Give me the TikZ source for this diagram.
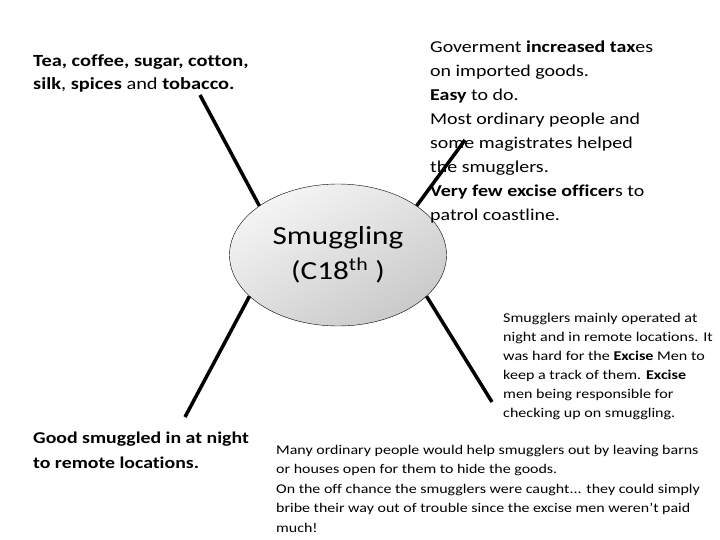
\documentclass[tikz,border=0pt]{standalone}
\usepackage{fontspec}
\setmainfont{Carlito}[FakeStretch=1.2, Ligatures=NoCommon]
\usepackage{tikz}
\usetikzlibrary{shapes.geometric, positioning, calc}
\tikzstyle{spoke} = [line width=3.5pt]
\tikzstyle{hub} = [ellipse, draw=black, thin, minimum width=217pt, minimum height=142pt, inner sep=0pt, top color=black!4, bottom color=black!21, shading angle=30, align=center, font=\fontsize{26}{35}\selectfont]
\tikzstyle{note} = [align=left, inner sep=0pt, anchor=north west]

\begin{document}
\begin{tikzpicture}[x=1pt,y=-1pt]
    \useasboundingbox (0,0) rectangle (720,540);
   	\node[hub](m_0) at (338,255){Smuggling\\(C18\textsuperscript{th} )};
   	\node[note,font=\fontsize{17}{23}\selectfont](t_1) at (33,54){\textbf{Tea, coffee, sugar, cotton,}\\\textbf{silk}, \textbf{spices} and \textbf{tobacco.}};
   	\node[note,font=\fontsize{16.6}{24}\selectfont](t_2) at (430,41){Goverment \textbf{increased tax}es\\on imported goods.\\\textbf{Easy} to do.\\Most ordinary people and\\some magistrates helped\\the smugglers.\\\textbf{Very few excise officer}s to\\patrol coastline.};
   	\node[note,font=\fontsize{13.4}{19}\selectfont](t_3) at (503,313){Smugglers mainly operated at\\night and in remote locations. It\\was hard for the \textbf{Excise} Men to\\keep a track of them. \textbf{Excise}\\men being responsible for\\checking up on smuggling.};
   	\node[note,font=\fontsize{16.5}{25}\selectfont](t_4) at (33,432){\textbf{Good smuggled in at night}\\\textbf{to remote locations.}};
   	\node[note,font=\fontsize{13.3}{19.5}\selectfont](t_5) at (276,445){Many ordinary people would help smugglers out by leaving barns\\or houses open for them to hide the goods.\\On the off chance the smugglers were caught... they could simply\\bribe their way out of trouble since the excise men weren’t paid\\much!};
    % free ends of the spokes
    \coordinate (e_1) at (200,95);
    \coordinate (e_2) at (185,417);
    \coordinate (e_3) at (465,140);
    \coordinate (e_4) at (492,402);
    \draw[spoke] (m_0.148) -- (e_1);
    \draw[spoke] (m_0.205) -- (e_2);
    \draw[spoke] (m_0.32) -- (e_3);
    \draw[spoke] (m_0.335) -- (e_4);
\end{tikzpicture}
\end{document}
